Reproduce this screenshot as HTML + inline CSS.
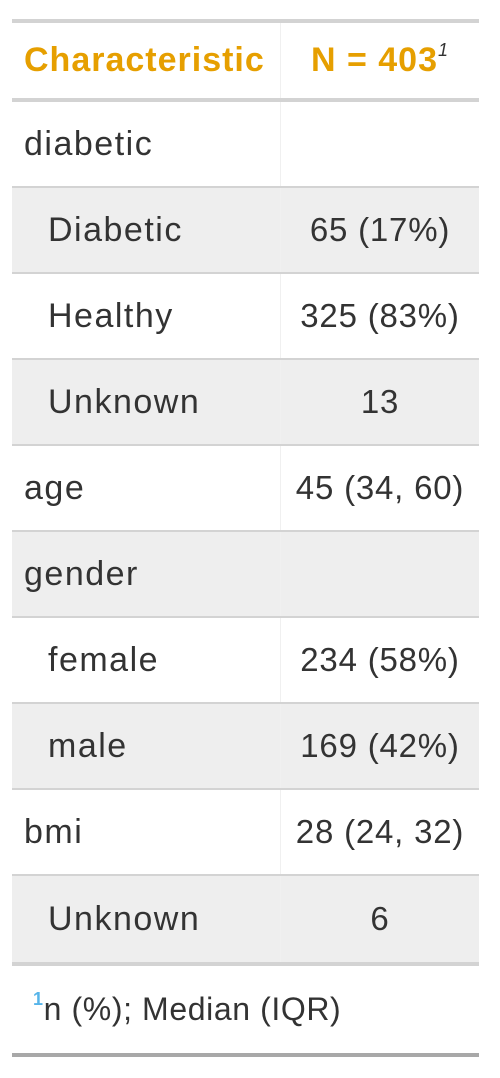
<!DOCTYPE html>
<html><head><meta charset="utf-8"><style>
body{margin:0;width:500px;height:1078px;background:#fff;font-family:"Liberation Sans",sans-serif;color:#333;position:relative;overflow:hidden}
.r{position:absolute;left:12px;width:467px;height:84px;border-bottom:2px solid #d3d3d3}
.s{background:#eee}
.l{position:absolute;top:0;line-height:84px;font-size:34px;letter-spacing:1.5px;white-space:nowrap}
.v{position:absolute;left:269px;width:198px;text-align:center;line-height:84px;font-size:33px;letter-spacing:0.8px;white-space:nowrap}
.d{position:absolute;left:268px;top:0;width:1px;height:100%;background:#f0f0f0}
</style></head><body>
<div>
<div style="position:absolute;left:12px;top:19px;width:467px;height:4px;background:#d3d3d3"></div>
<div style="position:absolute;left:12px;top:23px;width:467px;height:75px;border-bottom:4px solid #d3d3d3;color:#E69F00;font-weight:bold;font-size:34px;letter-spacing:1px">
<div class="d"></div>
<span style="position:absolute;left:12px;line-height:75px">Characteristic</span>
<span style="position:absolute;left:269px;width:198px;text-align:center;line-height:75px">N = 403<sup style="font-size:18px;color:#333;font-weight:normal;font-style:italic;vertical-align:15px;line-height:0">1</sup></span>
</div>
<div class="r" style="top:102px"><div class="d"></div><span class="l" style="left:12px">diabetic</span></div>
<div class="r s" style="top:188px"><div class="d"></div><span class="l" style="left:36px">Diabetic</span><span class="v">65 (17%)</span></div>
<div class="r" style="top:274px"><div class="d"></div><span class="l" style="left:36px">Healthy</span><span class="v">325 (83%)</span></div>
<div class="r s" style="top:360px"><div class="d"></div><span class="l" style="left:36px">Unknown</span><span class="v">13</span></div>
<div class="r" style="top:446px"><div class="d"></div><span class="l" style="left:12px">age</span><span class="v">45 (34, 60)</span></div>
<div class="r s" style="top:532px"><div class="d"></div><span class="l" style="left:12px">gender</span></div>
<div class="r" style="top:618px"><div class="d"></div><span class="l" style="left:36px">female</span><span class="v">234 (58%)</span></div>
<div class="r s" style="top:704px"><div class="d"></div><span class="l" style="left:36px">male</span><span class="v">169 (42%)</span></div>
<div class="r" style="top:790px"><div class="d"></div><span class="l" style="left:12px">bmi</span><span class="v">28 (24, 32)</span></div>
<div class="r s" style="top:876px;height:86px;border-bottom:4px solid #d3d3d3"><div class="d"></div><span class="l" style="left:36px;line-height:86px">Unknown</span><span class="v" style="line-height:86px">6</span></div>
<div style="position:absolute;left:12px;top:966px;width:467px;height:87px;border-bottom:4px solid #a8a8a8;font-size:32px;letter-spacing:0.6px;line-height:87px">
<span style="position:absolute;left:21px;white-space:nowrap"><sup style="color:#56B4E9;font-size:18px;font-weight:bold;vertical-align:15px;line-height:0">1</sup>n (%); Median (IQR)</span>
</div>
</div>
</body></html>
